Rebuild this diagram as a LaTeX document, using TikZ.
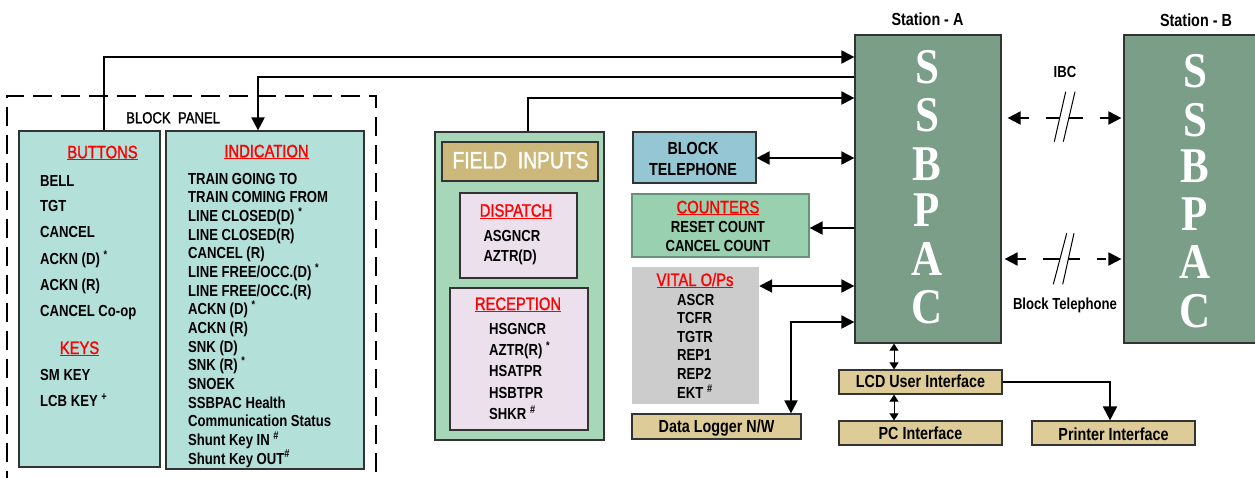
\documentclass[tikz,border=0pt]{standalone}
\usepackage{fontspec}
\setmainfont[FakeStretch=0.82]{Liberation Sans}
\newfontfamily\hdrfont[FakeStretch=0.82,FakeBold=1.3]{Liberation Sans}
\newfontfamily\ssbfont[FakeStretch=0.86]{Liberation Serif}
\usetikzlibrary{arrows.meta}
\definecolor{panelfill}{RGB}{180,224,218}
\definecolor{fieldfill}{RGB}{168,214,184}
\definecolor{fieldhead}{RGB}{204,184,122}
\definecolor{lavfill}{RGB}{236,224,236}
\definecolor{telfill}{RGB}{148,198,212}
\definecolor{cntfill}{RGB}{152,208,176}
\definecolor{vitfill}{RGB}{204,204,204}
\definecolor{tanfill}{RGB}{222,204,152}
\definecolor{ssbfill}{RGB}{122,158,136}
\definecolor{hdrred}{RGB}{255,0,0}
\definecolor{edge}{RGB}{51,51,51}
\newcommand{\hdrul}[1]{\setbox0\hbox{#1}\leavevmode\rlap{\rule[-2pt]{\wd0}{1pt}}\box0}
\newcommand{\mk}[1]{\textsuperscript{#1}}
\begin{document}
\begin{tikzpicture}[x=1pt,y=-1pt,
  bx/.style={draw=edge,line width=1.2pt,inner sep=0pt,rectangle},
  item/.style={inner sep=0pt,anchor=base west,font=\fontsize{16}{16}\selectfont\bfseries},
  citem/.style={inner sep=0pt,anchor=base,font=\fontsize{16}{16}\selectfont\bfseries},
  hdr/.style={inner sep=0pt,anchor=base,font=\fontsize{18}{18}\selectfont\hdrfont,text=hdrred},
  lbl/.style={inner sep=0pt,anchor=base,font=\fontsize{17.5}{17.5}\selectfont\bfseries},
  slbl/.style={inner sep=0pt,anchor=base,font=\fontsize{16}{16}\selectfont\bfseries},
  ssbl/.style={inner sep=0pt,anchor=base,text=white,font=\fontsize{50}{50}\selectfont\ssbfont\bfseries},
  arr/.style={line width=2pt,-{Triangle[length=13pt,width=13pt]}},
  biarr/.style={line width=2pt,{Triangle[length=13pt,width=13pt]}-{Triangle[length=13pt,width=13pt]}},
  smallbi/.style={line width=1pt,{Triangle[length=7pt,width=9pt]}-{Triangle[length=7pt,width=9pt]}},
  dashbi/.style={line width=2pt,{Triangle[length=13pt,width=13pt]}-{Triangle[length=13pt,width=13pt]},
     dash pattern=on 9pt off 17pt on 37pt off 17pt on 9pt},
  brk/.style={line width=1pt},
  panel/.style={draw=black,line width=1.2pt,dash pattern=on 19pt off 9pt}
]
\clip (0,0) rectangle (1255,477);
\fill[white] (0,0) rectangle (1255,477);

% ---- Block panel
\draw[panel] (7,490) -- (7,96) -- (376,96) -- (376,490);
\node[inner sep=0pt,anchor=base west,font=\fontsize{16}{16}\selectfont\hdrfont] (bplabel) at (126,123.3) {BLOCK\ \ PANEL};
\node[bx,fill=panelfill,minimum width=141pt,minimum height=336pt] (buttons) at (89.5,299) {};
\node[bx,fill=panelfill,minimum width=198pt,minimum height=338pt] (indication) at (265,300) {};
\node[hdr] (btnhdr) at (102.5,158.3) {\hdrul{BUTTONS}};
\foreach \txt/\yy [count=\i] in {BELL/186, TGT/211.7, CANCEL/237.7, ACKN (D) \mk{*}/264.3, ACKN (R)/290.7, CANCEL Co-op/316.7}
  \node[item] (btn\i) at (40,\yy) {\txt};
\node[hdr] (keyhdr) at (79.5,354) {\hdrul{KEYS}};
\node[item] (key1) at (40,380.7) {SM KEY};
\node[item] (key2) at (40,406.7) {LCB KEY \mk{+}};
\node[hdr] (indhdr) at (266.5,157.3) {\hdrul{INDICATION}};
\foreach \txt [count=\i from 0] in {TRAIN GOING TO, TRAIN COMING FROM, LINE CLOSED(D) \mk{*}, LINE CLOSED(R), CANCEL (R), LINE FREE/OCC.(D) \mk{*}, LINE FREE/OCC.(R), ACKN (D) \mk{*}, ACKN (R), SNK (D), SNK (R) \mk{*}, SNOEK, SSBPAC Health, Communication Status, Shunt Key IN \mk{\#}, Shunt Key OUT\mk{\#}}
  \node[item] (ind\i) at (188,184.3+18.65*\i) {\txt};

% ---- Field inputs
\node[bx,fill=fieldfill,minimum width=169pt,minimum height=308pt] (field) at (519.5,286) {};
\node[bx,fill=fieldhead,minimum width=156pt,minimum height=39pt] (fieldhd) at (520,161.5) {};
\node[inner sep=0pt,anchor=base,text=white,font=\fontsize{23.5}{23.5}\selectfont\hdrfont] (fieldtxt) at (520.5,168.3) {FIELD\ \ INPUTS};
\node[bx,fill=lavfill,minimum width=117pt,minimum height=85pt] (dispatch) at (518.5,235.5) {};
\node[hdr] (dishdr) at (516,216.7) {\hdrul{DISPATCH}};
\node[item] (dis1) at (483.3,241.7) {ASGNCR};
\node[item] (dis2) at (483.3,261) {AZTR(D)};
\node[bx,fill=lavfill,minimum width=138pt,minimum height=142pt] (reception) at (519,359) {};
\node[hdr] (rechdr) at (518,310) {\hdrul{RECEPTION}};
\foreach \txt [count=\i from 0] in {HSGNCR, AZTR(R) \mk{*}, HSATPR, HSBTPR, SHKR \mk{\#}}
  \node[item] (rec\i) at (489,334.3+21.25*\i) {\txt};

% ---- Middle column
\node[bx,fill=telfill,minimum width=123pt,minimum height=51pt] (btel) at (694.5,157.5) {};
\node[lbl] (btel1) at (693,154) {BLOCK};
\node[lbl] (btel2) at (693,175.7) {TELEPHONE};
\node[bx,draw=cntfill!70!black,fill=cntfill,minimum width=177pt,minimum height=63pt] (counters) at (720.5,225.5) {};
\node[hdr] (cnthdr) at (718,213.3) {\hdrul{COUNTERS}};
\node[citem] (cnt1) at (718,232.7) {RESET COUNT};
\node[citem] (cnt2) at (718,251.7) {CANCEL COUNT};
\node[fill=vitfill,inner sep=0pt,minimum width=127pt,minimum height=137pt] (vital) at (695.5,335.5) {};
\node[hdr] (vithdr) at (695,286) {\hdrul{VITAL O/Ps}};
\foreach \txt [count=\i from 0] in {ASCR, TCFR, TGTR, REP1, REP2, EKT \mk{\#}}
  \node[item] (vit\i) at (677,305+18.66*\i) {\txt};
\node[bx,fill=tanfill,minimum width=169pt,minimum height=25pt] (dlog) at (716.5,426.5) {};
\node[lbl] (dlogt) at (716.5,432.3) {Data Logger N/W};

% ---- SSBPAC units
\node[bx,fill=ssbfill,minimum width=146pt,minimum height=308pt] (ssbA) at (928,189) {};
\node[bx,fill=ssbfill,minimum width=146pt,minimum height=308pt] (ssbB) at (1197,189) {};
\foreach \L/\yy [count=\i] in {S/83.3, S/131.7, B/180, P/226.7, A/275, C/323.3}
  \node[ssbl] (sa\i) at (927,\yy) {\L};
\foreach \L/\yy [count=\i] in {S/87.3, S/136, B/182.7, P/230.7, A/278.3, C/327.3}
  \node[ssbl] (sb\i) at (1195,\yy) {\L};
\node[lbl] (stA) at (927.5,25) {Station - A};
\node[lbl] (stB) at (1196,26) {Station - B};

% ---- bottom boxes
\node[bx,fill=tanfill,minimum width=163pt,minimum height=24pt] (lcd) at (920.5,382) {};
\node[lbl] (lcdt) at (920.5,387.7) {LCD User Interface};
\node[bx,fill=tanfill,minimum width=163pt,minimum height=24pt] (pc) at (920.5,433) {};
\node[lbl] (pct) at (920.5,439.3) {PC Interface};
\node[bx,fill=tanfill,minimum width=163pt,minimum height=24pt] (printer) at (1113.5,433) {};
\node[lbl] (prt) at (1113.5,440) {Printer Interface};

% ---- connectors
\draw[arr] (buttons.north -| 104,0) |- (ssbA.west |- 0,57);
\draw[arr] (ssbA.west |- 0,77) -| (indication.north -| 258,0);
\draw[arr] (field.north -| 528,0) |- (ssbA.west |- 0,98);
\draw[biarr] (btel.east |- 0,158) -- (ssbA.west |- 0,158);
\draw[arr] (ssbA.west |- 0,228) -- (counters.east |- 0,228);
\draw[biarr] (vital.east |- 0,286) -- (ssbA.west |- 0,286);
\draw[biarr] (dlog.north -| 791,0) |- (ssbA.west |- 0,322);
\draw[smallbi] (ssbA.south -| 894,0) -- (lcd.north -| 894,0);
\draw[smallbi] (lcd.south -| 894,0) -- (pc.north -| 894,0);
\draw[line width=2pt,-{Triangle[length=14pt,width=14pt]}] (lcd.east) -| (printer.north -| 1110,0);

% ---- inter-station links
\coordinate (ibc) at (1065,118);
\coordinate (btl) at (1065,259);
\draw[dashbi,shorten <=6pt,shorten >=2pt] (ssbA.east |- ibc) -- (ssbB.west |- ibc);
\draw[dashbi,shorten <=3pt,shorten >=2pt] (ssbA.east |- btl) -- (ssbB.west |- btl);
\fill[white] (1065.7,91.7) -- (1075,91.7) -- (1063.3,141.7) -- (1054.3,141.7) -- cycle;
\draw[brk] (1065.7,91.7) -- (1054.3,141.7);
\draw[brk] (1075,91.7) -- (1063.3,141.7);
\fill[white] (1066.7,233.3) -- (1074,233.3) -- (1062.7,284.3) -- (1053.3,284.3) -- cycle;
\draw[brk] (1066.7,233.3) -- (1053.3,284.3);
\draw[brk] (1074,233.3) -- (1062.7,284.3);
\node[slbl] (ibct) at (1065,77.3) {IBC};
\node[slbl] (btlt) at (1065,309.3) {Block Telephone};
\end{tikzpicture}
\end{document}
